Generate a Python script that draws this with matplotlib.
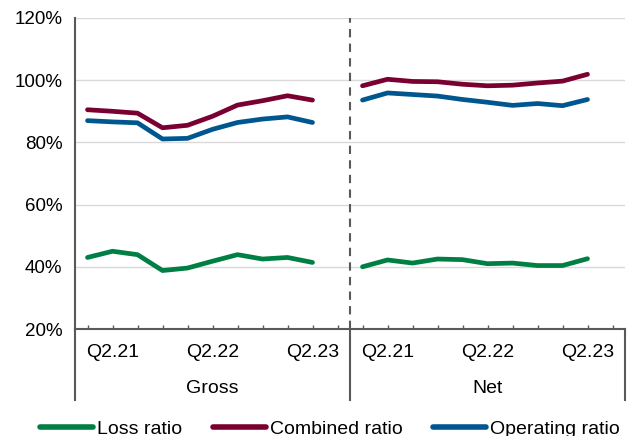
import matplotlib.pyplot as plt
from matplotlib.lines import Line2D

quarters = ['Q1.21', 'Q2.21', 'Q3.21', 'Q4.21', 'Q1.22', 'Q2.22', 'Q3.22', 'Q4.22', 'Q1.23', 'Q2.23']
groups = ['Gross', 'Net']
shown_labels = ['Q2.21', 'Q2.22', 'Q2.23']

loss_gross = [43.0, 45.0, 43.9, 38.8, 39.6, 41.8, 43.9, 42.5, 43.0, 41.4]
loss_net = [40.0, 42.2, 41.2, 42.5, 42.3, 41.0, 41.2, 40.4, 40.4, 42.6]
combined_gross = [90.5, 90.0, 89.4, 84.7, 85.5, 88.4, 92.0, 93.4, 95.0, 93.6]
combined_net = [98.2, 100.3, 99.6, 99.5, 98.7, 98.2, 98.4, 99.1, 99.7, 101.9]
operating_gross = [87.0, 86.6, 86.3, 81.1, 81.3, 84.2, 86.4, 87.5, 88.2, 86.4]
operating_net = [93.6, 95.9, 95.4, 94.9, 93.8, 92.9, 91.9, 92.5, 91.8, 93.8]

series = [
    ('Loss ratio', '#007f45', loss_gross, loss_net),
    ('Combined ratio', '#7a0032', combined_gross, combined_net),
    ('Operating ratio', '#00578f', operating_gross, operating_net),
]

plt.rcParams['font.family'] = ['Liberation Sans', 'DejaVu Sans']
axis_col = '#595959'

fig = plt.figure(figsize=(6.27, 4.36), dpi=100)
ax = fig.add_axes([75 / 627, 107 / 436, 550 / 627, 311 / 436])

n = len(quarters)
slot = n + 1  # each group gets one empty slot at the end
for name, color, g, nt in series:
    ax.plot(range(n), g, color=color, lw=3.4, solid_capstyle='round', solid_joinstyle='round', zorder=3)
    ax.plot(range(slot, slot + n), nt, color=color, lw=3.4, solid_capstyle='round', solid_joinstyle='round', zorder=3)

ax.set_xlim(-0.5, 2 * slot - 0.5)
ax.set_ylim(20, 120)
ax.set_yticks(range(20, 121, 20))
ax.set_yticklabels([f'{v}%' for v in range(20, 121, 20)], fontsize=13.5)
ax.tick_params(axis='y', length=0, pad=9, colors='black')
ax.set_xticks(range(2 * slot))
ax.set_xticklabels([])
ax.tick_params(axis='x', direction='in', length=3, width=1, color=axis_col)

for v in range(40, 121, 20):
    ax.axhline(v, color='#d9d9d9', lw=1, zorder=1)

for s in ['top', 'right']:
    ax.spines[s].set_visible(False)
ax.spines['left'].set_color(axis_col)
ax.spines['left'].set_linewidth(1.5)
ax.spines['bottom'].set_color(axis_col)
ax.spines['bottom'].set_linewidth(1.5)

ax.axvline(slot - 0.5, color=axis_col, lw=1.5, ls=(0, (4, 3)), zorder=2)

# category labels below the axis
trans = ax.get_xaxis_transform()
for gi, grp in enumerate(groups):
    off = gi * slot
    for q in shown_labels:
        ax.text(off + quarters.index(q), -0.074, q, transform=trans, ha='center', va='center', fontsize=14)
    ax.text(off + (slot - 1) / 2, -0.19, grp, transform=trans, ha='center', va='center', fontsize=14)
for xb in [-0.5, slot - 0.5, 2 * slot - 0.5]:
    ax.plot([xb, xb], [0, -0.228], transform=trans, color=axis_col, lw=1.5, clip_on=False)

handles = [Line2D([], [], color=c, lw=4, solid_capstyle='round') for _, c, _, _ in series]
fig.legend(handles, [s[0] for s in series], loc='center', bbox_to_anchor=(330 / 627, 7 / 436),
           ncol=3, frameon=False, fontsize=14, handlelength=2.7, handletextpad=0.2, columnspacing=1.6)

fig.savefig('out.png', dpi=100)
